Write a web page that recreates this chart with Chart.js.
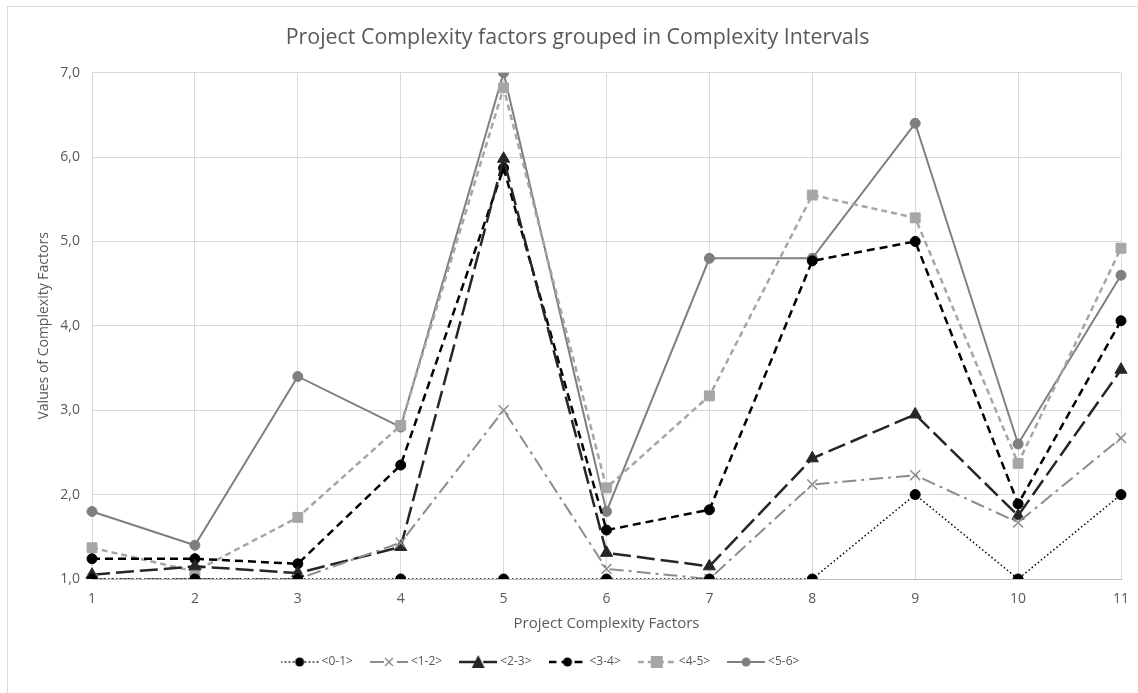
<!DOCTYPE html>
<html>
<head>
<meta charset="utf-8">
<script src="https://cdn.jsdelivr.net/npm/chart.js@4.4.1/dist/chart.umd.min.js"></script>
<style>
  html, body { margin: 0; padding: 0; background: #fff; }
  #wrap { width: 1138px; height: 693px; position: relative; }
</style>
</head>
<body>
<div id="wrap"><canvas id="complexityChart" width="1138" height="693"></canvas></div>
<script>
// categories (project complexity factors)
const factors = ['1', '2', '3', '4', '5', '6', '7', '8', '9', '10', '11'];

// values per complexity interval
const interval01 = [1.0, 1.0, 1.0, 1.0, 1.0, 1.0, 1.0, 1.0, 2.0, 1.0, 2.0];
const interval12 = [1.0, 1.0, 1.0, 1.43, 3.0, 1.12, 1.0, 2.12, 2.23, 1.67, 2.67];
const interval23 = [1.05, 1.15, 1.07, 1.38, 5.98, 1.31, 1.15, 2.43, 2.95, 1.75, 3.48];
const interval34 = [1.24, 1.24, 1.18, 2.35, 5.87, 1.58, 1.82, 4.77, 5.0, 1.89, 4.06];
const interval45 = [1.37, 1.09, 1.73, 2.82, 6.82, 2.08, 3.17, 5.55, 5.28, 2.37, 4.92];
const interval56 = [1.8, 1.4, 3.4, 2.8, 7.0, 1.8, 4.8, 4.8, 6.4, 2.6, 4.6];

const yTicks = [1, 2, 3, 4, 5, 6, 7];

const textColor = '#595959';
const fontFamily = '"Open Sans", "Noto Sans", sans-serif';

const seriesStyles = [
  { label: '<0-1>', data: interval01, color: '#000000', dash: [1.5, 2.5], width: 1.5, point: 'circle', radius: 5 },
  { label: '<1-2>', data: interval12, color: '#8c8c8c', dash: [14, 5, 3, 5], width: 2, point: 'crossRot', radius: 7 },
  { label: '<2-3>', data: interval23, color: '#262626', dash: [18, 6], width: 2.5, point: 'triangle', radius: 7 },
  { label: '<3-4>', data: interval34, color: '#000000', dash: [8, 5], width: 2.5, point: 'circle', radius: 5 },
  { label: '<4-5>', data: interval45, color: '#a6a6a6', dash: [6, 4], width: 2.5, point: 'rect', radius: 7 },
  { label: '<5-6>', data: interval56, color: '#7f7f7f', dash: [], width: 2, point: 'circle', radius: 5 }
];

// little picture for each legend entry: line sample + marker
function legendSwatch(s) {
  const c = document.createElement('canvas');
  c.width = 38;
  c.height = 16;
  const g = c.getContext('2d');
  g.strokeStyle = s.color;
  g.lineWidth = s.width;
  g.setLineDash(s.dash);
  g.beginPath();
  g.moveTo(0, 8);
  g.lineTo(38, 8);
  g.stroke();
  g.setLineDash([]);
  g.fillStyle = s.color;
  g.strokeStyle = s.color;
  if (s.point === 'circle') {
    g.beginPath();
    g.arc(19, 8, 4.5, 0, Math.PI * 2);
    g.fill();
  } else if (s.point === 'rect') {
    g.fillRect(13, 2, 12, 12);
  } else if (s.point === 'triangle') {
    g.beginPath();
    g.moveTo(19, 1);
    g.lineTo(25.5, 14);
    g.lineTo(12.5, 14);
    g.closePath();
    g.fill();
  } else if (s.point === 'crossRot') {
    g.fillStyle = '#fff';
    g.fillRect(14, 3, 10, 10);
    g.lineWidth = 1.5;
    g.beginPath();
    g.moveTo(15, 4); g.lineTo(23, 12);
    g.moveTo(23, 4); g.lineTo(15, 12);
    g.stroke();
  }
  return c;
}

const swatches = seriesStyles.map(legendSwatch);

// Excel centres title / legend a bit differently, nudge them after layout
const nudgeBlocks = {
  id: 'nudgeBlocks',
  afterLayout(chart) {
    if (chart.titleBlock) {
      chart.titleBlock.left += 17;
      chart.titleBlock.right += 17;
    }
    if (chart.legend) {
      chart.legend.left -= 19;
      chart.legend.right -= 19;
    }
  }
};

const chartBorder = {
  id: 'chartBorder',
  afterDraw(chart) {
    const ctx = chart.ctx;
    ctx.save();
    ctx.strokeStyle = '#d9d9d9';
    ctx.lineWidth = 1;
    ctx.strokeRect(7.5, 6.5, 1140, 700);
    ctx.restore();
  }
};

const ctx = document.getElementById('complexityChart').getContext('2d');
new Chart(ctx, {
  type: 'line',
  data: {
    labels: factors,
    datasets: seriesStyles.map(s => ({
      label: s.label,
      data: s.data,
      borderColor: s.color,
      backgroundColor: s.color,
      borderWidth: s.width,
      borderDash: s.dash,
      pointStyle: s.point,
      pointRadius: s.radius,
      pointHoverRadius: s.radius,
      pointBorderWidth: s.point === 'crossRot' ? 1.5 : 1,
      pointBorderColor: s.color,
      pointBackgroundColor: s.color,
      tension: 0,
      fill: false
    }))
  },
  options: {
    responsive: false,
    animation: false,
    layout: { padding: { left: 0, right: 17, top: 0, bottom: 15 } },
    plugins: {
      title: {
        display: true,
        text: 'Project Complexity factors grouped in Complexity Intervals',
        color: textColor,
        font: { family: fontFamily, size: 21.4, weight: 'normal' },
        padding: { top: 25, bottom: 22 }
      },
      legend: {
        position: 'bottom',
        labels: {
          color: textColor,
          font: { family: fontFamily, size: 12 },
          usePointStyle: true,
          pointStyleWidth: 32,
          boxHeight: 12,
          padding: 20,
          generateLabels(chart) {
            return chart.data.datasets.map((ds, i) => ({
              text: ds.label,
              fontColor: textColor,
              pointStyle: swatches[i],
              hidden: false,
              lineWidth: 0,
              strokeStyle: 'transparent',
              fillStyle: 'transparent',
              datasetIndex: i
            }));
          }
        }
      },
      tooltip: { enabled: false }
    },
    scales: {
      x: {
        offset: false,
        afterFit(scale) {
          scale.height = 57;
          scale.paddingRight = 0;
        },
        grid: { color: '#d9d9d9', drawTicks: false },
        border: { color: '#bfbfbf' },
        ticks: { color: textColor, font: { family: fontFamily, size: 14 }, padding: 12, maxRotation: 0 },
        title: {
          display: true,
          text: 'Project Complexity Factors',
          color: textColor,
          font: { family: fontFamily, size: 15 },
          padding: { top: 0, bottom: 3 }
        }
      },
      y: {
        min: 1,
        max: 7,
        afterFit(scale) { scale.width = 92; },
        afterBuildTicks(scale) {
          scale.ticks = yTicks.map(v => ({ value: v }));
        },
        grid: { color: '#d9d9d9', drawTicks: false },
        border: { display: false },
        ticks: {
          color: textColor,
          font: { family: fontFamily, size: 14 },
          padding: 12,
          callback: v => v.toFixed(1).replace('.', ',')
        },
        title: {
          display: true,
          text: 'Values of Complexity Factors',
          color: textColor,
          font: { family: fontFamily, size: 14 },
          padding: { top: 36, bottom: 0 }
        }
      }
    }
  },
  plugins: [nudgeBlocks, chartBorder]
});
</script>
</body>
</html>
